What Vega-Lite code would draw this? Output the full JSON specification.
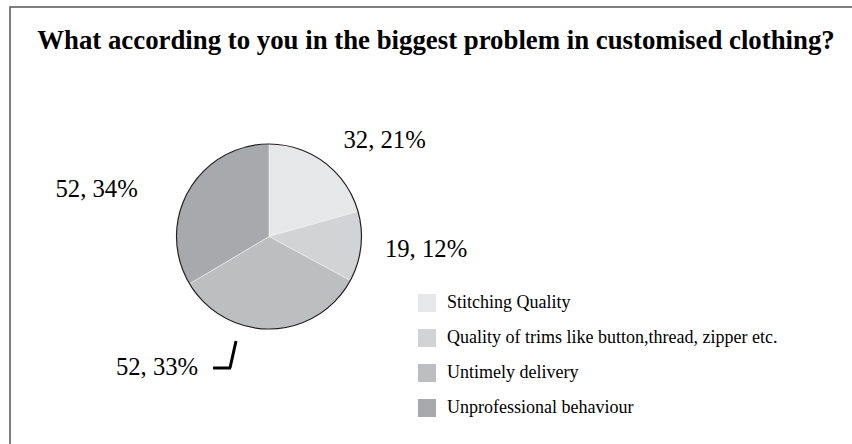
{
  "$schema": "https://vega.github.io/schema/vega-lite/v6.json",
  "autosize": "none",
  "width": 186,
  "height": 185,
  "padding": {"left": 176, "top": 144, "right": 490, "bottom": 115},
  "background": "white",
  "title": {
    "text": "What according to you in the biggest problem in customised clothing?",
    "font": "Liberation Serif",
    "fontSize": 26.8,
    "fontWeight": "bold",
    "color": "#000000",
    "anchor": "middle",
    "frame": "group",
    "dx": 167,
    "offset": -49
  },
  "config": {"view": {"stroke": null}},
  "data": {
    "values": [
      {"cat": "Stitching Quality", "value": 32, "label": "32, 21%", "k": 1},
      {"cat": "Quality of trims like button,thread, zipper etc.", "value": 19, "label": "19, 12%", "k": 2},
      {"cat": "Untimely delivery", "value": 52, "label": "52, 33%", "k": 3},
      {"cat": "Unprofessional behaviour", "value": 52, "label": "52, 34%", "k": 4}
    ]
  },
  "layer": [
    {
      "data": {"values": [{"f": 1}]},
      "mark": {"type": "rect", "fill": null, "stroke": "#555555", "strokeWidth": 1.5},
      "encoding": {
        "x": {"value": -166},
        "x2": {"value": 1000},
        "y": {"value": -137},
        "y2": {"value": 1000}
      }
    },
    {
      "mark": {"type": "arc", "radius": 92.5, "stroke": "#f2f2f2", "strokeWidth": 0.6},
      "encoding": {
        "theta": {"field": "value", "type": "quantitative", "stack": true},
        "order": {"field": "k", "type": "quantitative"},
        "color": {
          "field": "cat",
          "type": "nominal",
          "scale": {
            "domain": ["Stitching Quality", "Quality of trims like button,thread, zipper etc.", "Untimely delivery", "Unprofessional behaviour"],
            "range": ["#e6e7e8", "#d1d3d4", "#bcbec0", "#a7a9ac"]
          },
          "legend": {
            "title": null,
            "orient": "none",
            "legendX": 242,
            "legendY": 150,
            "padding": 0,
            "symbolType": "square",
            "symbolSize": 324,
            "symbolStrokeWidth": 0,
            "symbolOpacity": 1,
            "labelFont": "Liberation Serif",
            "labelFontSize": 18,
            "labelColor": "#000000",
            "labelOffset": 11,
            "labelLimit": 600,
            "rowPadding": 17
          }
        }
      }
    },
    {
      "data": {"values": [{"c": 1}]},
      "mark": {"type": "point", "shape": "circle", "size": 34225, "filled": false, "stroke": "#231f20", "strokeWidth": 1.2, "opacity": 1},
      "encoding": {}
    },
    {
      "mark": {"type": "text", "radius": 150, "font": "Liberation Serif", "fontSize": 24.7, "fill": "#000000", "align": "center", "baseline": "alphabetic", "dx": 25, "dy": 31},
      "encoding": {
        "theta": {"field": "value", "type": "quantitative", "stack": true},
        "order": {"field": "k", "type": "quantitative"},
        "detail": {"field": "cat", "type": "nominal"},
        "text": {"condition": {"test": "datum.k === 1", "field": "label"}, "value": ""}
      }
    },
    {
      "mark": {"type": "text", "radius": 150, "font": "Liberation Serif", "fontSize": 24.7, "fill": "#000000", "align": "center", "baseline": "alphabetic", "dx": 8, "dy": 4},
      "encoding": {
        "theta": {"field": "value", "type": "quantitative", "stack": true},
        "order": {"field": "k", "type": "quantitative"},
        "detail": {"field": "cat", "type": "nominal"},
        "text": {"condition": {"test": "datum.k === 2", "field": "label"}, "value": ""}
      }
    },
    {
      "mark": {"type": "text", "radius": 150, "font": "Liberation Serif", "fontSize": 24.7, "fill": "#000000", "align": "center", "baseline": "alphabetic", "dx": -115, "dy": -11},
      "encoding": {
        "theta": {"field": "value", "type": "quantitative", "stack": true},
        "order": {"field": "k", "type": "quantitative"},
        "detail": {"field": "cat", "type": "nominal"},
        "text": {"condition": {"test": "datum.k === 3", "field": "label"}, "value": ""}
      }
    },
    {
      "mark": {"type": "text", "radius": 150, "font": "Liberation Serif", "fontSize": 24.7, "fill": "#000000", "align": "center", "baseline": "alphabetic", "dx": -42, "dy": 35},
      "encoding": {
        "theta": {"field": "value", "type": "quantitative", "stack": true},
        "order": {"field": "k", "type": "quantitative"},
        "detail": {"field": "cat", "type": "nominal"},
        "text": {"condition": {"test": "datum.k === 4", "field": "label"}, "value": ""}
      }
    },
    {
      "data": {"values": [{"s": 1}]},
      "mark": {"type": "rule", "stroke": "#000000", "strokeWidth": 3},
      "encoding": {
        "x": {"value": 60},
        "y": {"value": 197},
        "x2": {"value": 54},
        "y2": {"value": 224}
      }
    },
    {
      "data": {"values": [{"s": 1}]},
      "mark": {"type": "rule", "stroke": "#000000", "strokeWidth": 3},
      "encoding": {
        "x": {"value": 55},
        "y": {"value": 224},
        "x2": {"value": 37},
        "y2": {"value": 224}
      }
    }
  ]
}
